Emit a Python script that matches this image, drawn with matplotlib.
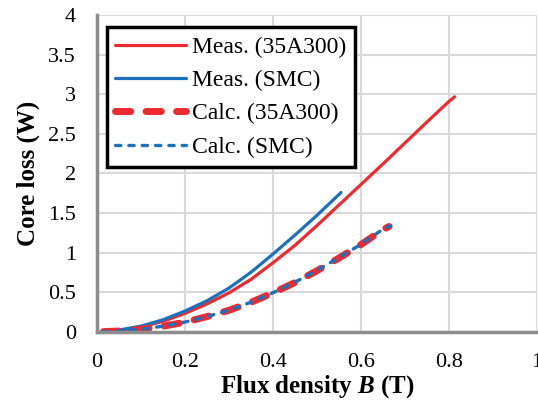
import matplotlib
matplotlib.use("Agg")
import matplotlib.pyplot as plt

# flux density B (T) and core loss (W)
b_meas_35a = [0.015, 0.05, 0.1, 0.15, 0.2, 0.25, 0.3, 0.35, 0.4, 0.45, 0.5,
              0.55, 0.6, 0.65, 0.7, 0.75, 0.8, 0.813]
p_meas_35a = [0.002, 0.015, 0.06, 0.13, 0.23, 0.35, 0.49, 0.66, 0.87, 1.09,
              1.34, 1.60, 1.86, 2.12, 2.385, 2.65, 2.91, 2.97]

b_meas_smc = [0.015, 0.05, 0.1, 0.15, 0.2, 0.25, 0.3, 0.35, 0.4, 0.45, 0.5, 0.555]
p_meas_smc = [0.003, 0.02, 0.07, 0.15, 0.26, 0.39, 0.55, 0.75, 0.98, 1.22, 1.47, 1.76]

b_calc_35a = [0.015, 0.05, 0.1, 0.15, 0.2, 0.25, 0.3, 0.35, 0.4, 0.45, 0.5,
              0.55, 0.6, 0.65, 0.664]
p_calc_35a = [0.001, 0.008, 0.03, 0.068, 0.12, 0.19, 0.27, 0.37, 0.49, 0.62,
              0.77, 0.93, 1.10, 1.29, 1.33]

b_calc_smc = [0.015, 0.05, 0.1, 0.15, 0.2, 0.25, 0.3, 0.35, 0.4, 0.45, 0.5,
              0.55, 0.6, 0.65, 0.668]
p_calc_smc = [0.001, 0.008, 0.031, 0.069, 0.122, 0.19, 0.272, 0.372, 0.492,
              0.625, 0.775, 0.935, 1.105, 1.295, 1.34]

red = "#EE2A30"
blue = "#1C70BD"

plt.rcParams["font.family"] = "Liberation Serif"
plt.rcParams["mathtext.fontset"] = "custom"
plt.rcParams["mathtext.it"] = "Liberation Serif:italic:bold"
plt.rcParams["mathtext.rm"] = "Liberation Serif:bold"

fig = plt.figure(figsize=(5.38, 4.03), dpi=100)
ax = fig.add_axes([0.180, 0.177, 0.818, 0.785])

ax.plot(b_meas_35a, p_meas_35a, color=red, lw=2.3, label="Meas. (35A300)",
        solid_capstyle="round")
ax.plot(b_meas_smc, p_meas_smc, color=blue, lw=2.3, label="Meas. (SMC)",
        solid_capstyle="round")
ax.plot(b_calc_35a, p_calc_35a, color=red, lw=5, dashes=(2.2, 2.2),
        dash_capstyle="round", label="Calc. (35A300)")
ax.plot(b_calc_smc, p_calc_smc, color=blue, lw=2.4, dashes=(1.6, 2.4),
        dash_capstyle="round", label="Calc. (SMC)")

ax.set_xlim(0, 1)
ax.set_ylim(0, 4)
ax.set_xticks([0, 0.2, 0.4, 0.6, 0.8, 1])
ax.set_xticklabels(["0", "0.2", "0.4", "0.6", "0.8", "1"])
ax.set_yticks([0, 0.5, 1, 1.5, 2, 2.5, 3, 3.5, 4])
ax.set_yticklabels(["0", "0.5", "1", "1.5", "2", "2.5", "3", "3.5", "4"])
ax.tick_params(axis="both", length=0, labelsize=16)
ax.tick_params(axis="y", pad=15)
ax.tick_params(axis="x", pad=15)
ax.grid(True, color="#d9d9d9", lw=1.5)
ax.set_axisbelow(True)

for s in ["top", "right"]:
    ax.spines[s].set_visible(False)
for s in ["left", "bottom"]:
    ax.spines[s].set_color("#8c8c8c")
    ax.spines[s].set_linewidth(2.5)

ax.set_xlabel(r"Flux density $B$ (T)", fontsize=18, fontweight="bold", labelpad=1)
ax.set_ylabel("Core loss (W)", fontsize=18, fontweight="bold", labelpad=6)

leg = ax.legend(loc="upper left", bbox_to_anchor=(0.022, 0.962), borderaxespad=0,
                fontsize=17, handlelength=3.0, handletextpad=0.25,
                labelspacing=0.5, borderpad=0.38, fancybox=False, framealpha=1)
leg.get_frame().set_edgecolor("black")
leg.get_frame().set_linewidth(2.5)

fig.savefig("out.png", dpi=100)
